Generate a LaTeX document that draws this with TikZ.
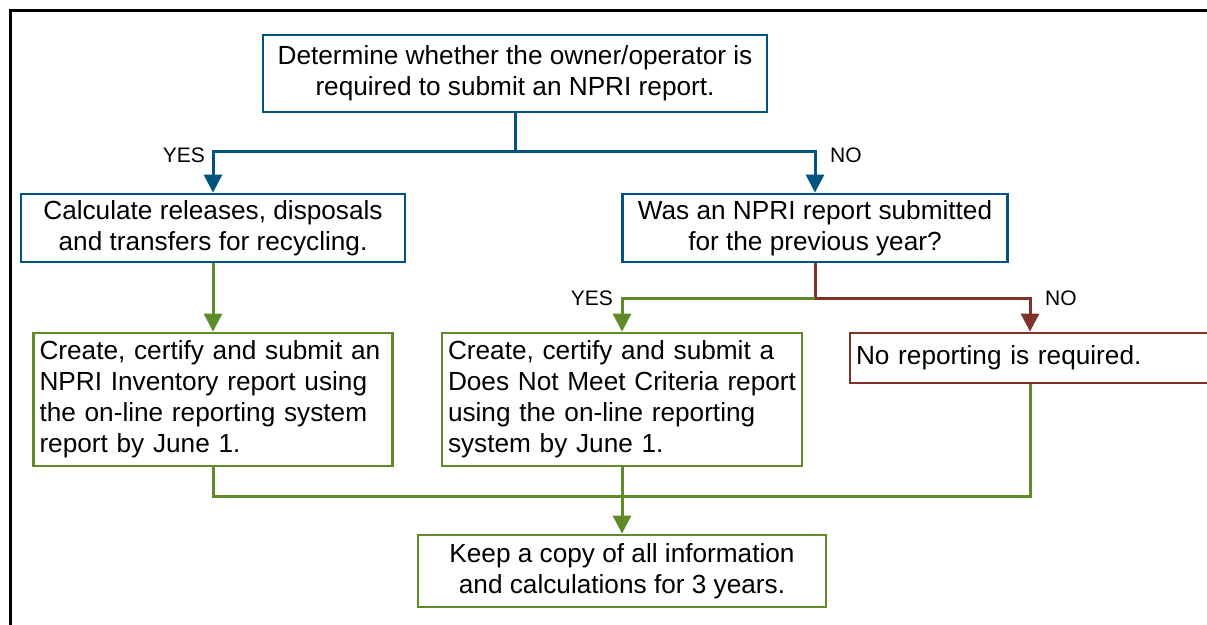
\documentclass[tikz,border=0pt]{standalone}
\usepackage{fontspec}
\setmainfont{Liberation Sans}
\usetikzlibrary{arrows.meta}
\definecolor{npriblue}{RGB}{0,85,128}
\definecolor{nprigreen}{RGB}{96,138,40}
\definecolor{nprired}{RGB}{126,50,42}
\hyphenpenalty=10000
\begin{document}
\begin{tikzpicture}[x=1pt, y={(0,-1pt)},
    box/.style = {draw, line width=2.8pt, fill=white, inner xsep=6pt, inner ysep=0pt,
                  font=\fontsize{26.2}{31}\selectfont},
    cbox/.style = {box, align=center},
    lbox/.style = {box, align=left, text width=348pt},
    flow/.style = {line width=3pt, -{Triangle[width=18pt,length=18pt]}},
    lbl/.style = {font=\fontsize{21}{25}\selectfont, inner sep=0pt}]
  \useasboundingbox (0,0) rectangle (1207,624);
  \draw [line width=3pt] (10.5,700) -- (10.5,10.5) -- (1300,10.5);
  % boxes
  \node [cbox, draw=npriblue, minimum width=504pt, minimum height=77pt] (top) at (515,73.5)
    {Determine whether the owner/operator is\\required to submit an NPRI report.};
  \node [cbox, draw=npriblue, minimum width=384pt, minimum height=68pt] (calc) at (213,228)
    {Calculate releases, disposals\\and transfers for recycling.};
  \node [cbox, draw=npriblue, minimum width=385pt, minimum height=68pt] (prev) at (815,228)
    {Was an NPRI report submitted\\for the previous year?};
  \node [lbox, draw=nprigreen, text width=347pt, minimum height=133pt] (inv) at (213,399.5)
    {Create, certify and submit an\\NPRI Inventory report using\\the on-line reporting system\\report by June 1.};
  \node [lbox, draw=nprigreen, minimum height=133pt] (dnmc) at (622,399.5)
    {Create, certify and submit a\\Does Not Meet Criteria report\\using the on-line reporting\\system by June 1.};
  \node [lbox, draw=nprired, minimum height=50pt] (noreq) at (1030,358)
    {No reporting is required.};
  \node [cbox, draw=nprigreen, minimum width=408pt, minimum height=72pt] (keep) at (622,571)
    {Keep a copy of all information\\and calculations for 3 years.};
  % branch points
  \coordinate (split1) at (515,151);
  \coordinate (split2) at (815,298);
  \coordinate (join) at (622,496);
  % connectors
  \draw [flow, npriblue] (top) -- (split1) -| (calc);
  \draw [flow, npriblue] (split1) -| (prev);
  \draw [line width=3pt, nprired] (prev) -- (split2);
  \draw [flow, nprired] (split2) -| (noreq);
  \draw [flow, nprigreen] (split2) -| (dnmc);
  \draw [flow, nprigreen] (calc) -- (inv);
  \draw [line width=3pt, nprigreen] (inv) |- (join);
  \draw [line width=3pt, nprigreen] (noreq) |- (join);
  \draw [flow, nprigreen] (dnmc) -- (keep);
  % labels
  \node [lbl, anchor=east] (yes1) at (205,155) {YES};
  \node [lbl, anchor=west] (no1) at (830,155) {NO};
  \node [lbl, anchor=east] (yes2) at (613,298) {YES};
  \node [lbl, anchor=west] (no2) at (1045,298) {NO};
\end{tikzpicture}
\end{document}
